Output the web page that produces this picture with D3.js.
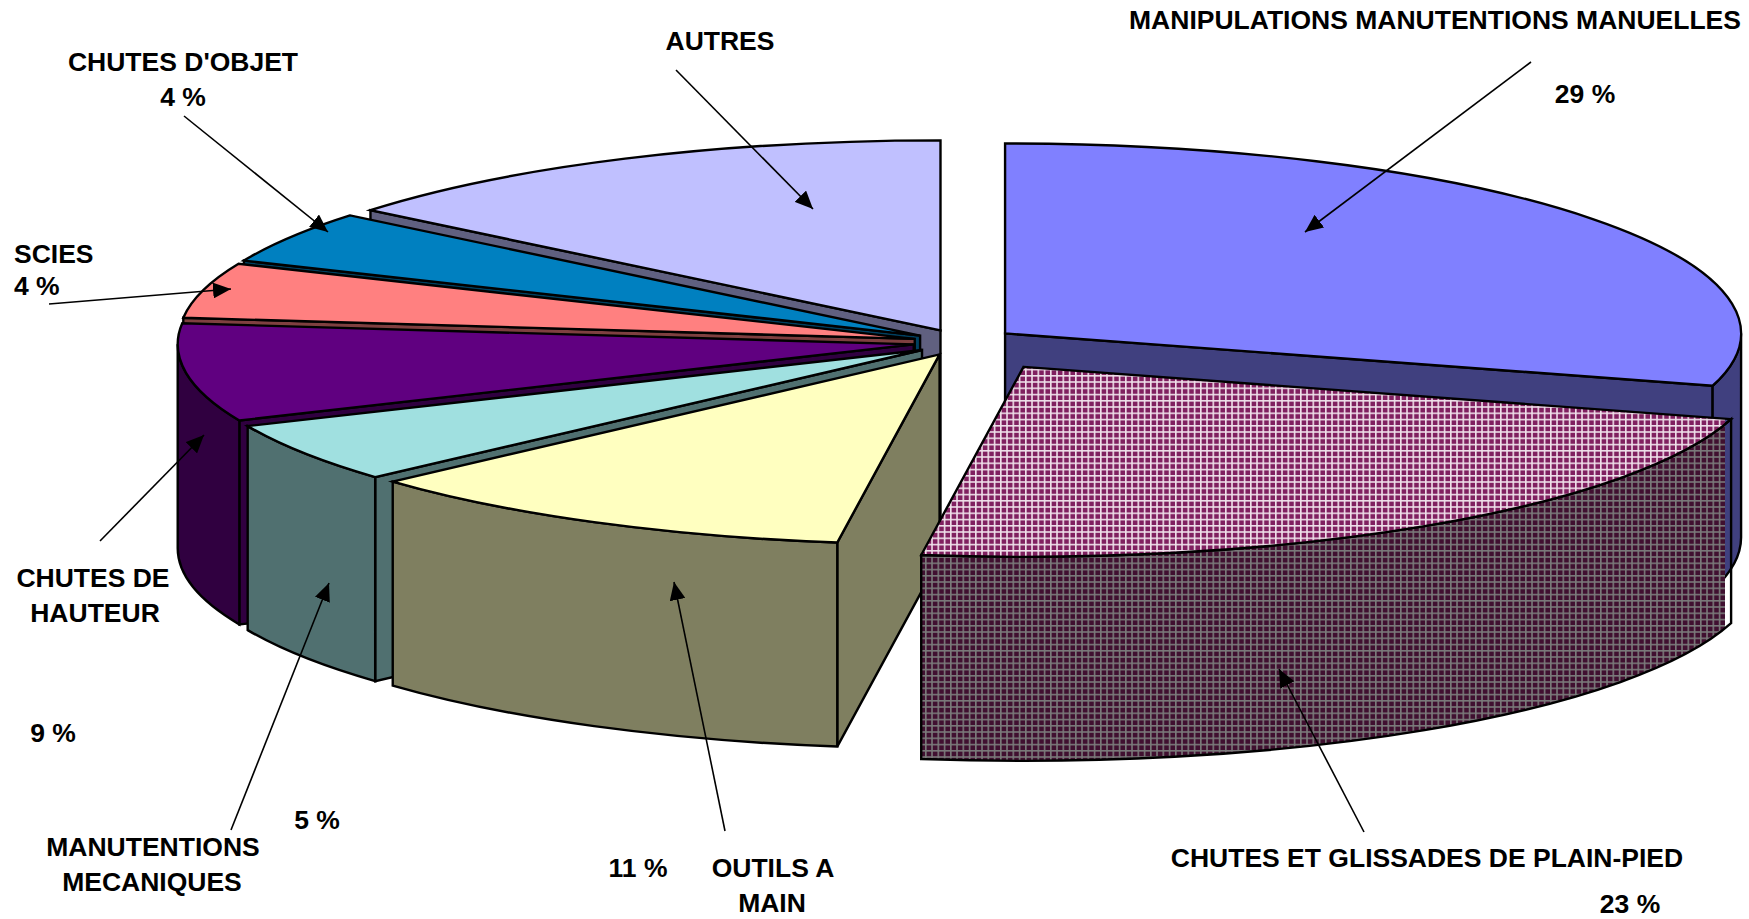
<!DOCTYPE html>
<html>
<head>
<meta charset="utf-8">
<script src="https://cdn.jsdelivr.net/npm/d3@7"></script>
<style>
  body { margin: 0; background: #fff; }
  svg { display: block; }
  text { font-family: "Liberation Sans", Arial, sans-serif; font-weight: bold; font-size: 26.5px; fill: #000; }
</style>
</head>
<body>
<div id="container"></div>
<script>
// slices, clockwise from 12 o'clock
let categories = [
    "MANIPULATIONS MANUTENTIONS MANUELLES",
    "CHUTES ET GLISSADES DE PLAIN-PIED",
    "OUTILS A MAIN",
    "MANUTENTIONS MECANIQUES",
    "CHUTES DE HAUTEUR",
    "SCIES",
    "CHUTES D'OBJET",
    "AUTRES"
];
// shares measured on the drawing, the printed labels are rounded
let shares = [29.44, 22.78, 11.11, 5.11, 8.33, 4.69, 4.44, 14.10];
let percentLabels = ["29 %", "23 %", "11 %", "5 %", "9 %", "4 %", "4 %", ""];
// how far each slice is pulled out, % of radius
let explosion = [7.5, 15.6, 6.2, 6.3, 6.5, 6.5, 6.5, 6.5];
// front slices sit a bit lower than a flat ellipse says (perspective), px
let frontDrop = [0, 0, 2, 1.5, 0.5, 0, 0, -0.5];

let topColors = ["#8080FF", "url(#checkTop)", "#FFFFC0", "#A0E0E0", "#600080", "#FF8080", "#0080C0", "#C0C0FF"];
let wallColors = ["#40407F", "url(#checkWall)", "#7F7F60", "#507070", "#300040", "#7F4040", "#004060", "#606080"];

// text placement: [string, x, baseline y, anchor]
let labelLayout = [
    [categories[0], 1435, 29, "middle"],
    [percentLabels[0], 1585, 103, "middle"],
    [categories[1], 1427, 867, "middle"],
    [percentLabels[1], 1630, 913, "middle"],
    ["OUTILS A", 773, 877, "middle"],
    ["MAIN", 772, 912, "middle"],
    [percentLabels[2], 638, 877, "middle"],
    ["MANUTENTIONS", 153, 856, "middle"],
    ["MECANIQUES", 152, 891, "middle"],
    [percentLabels[3], 317, 829, "middle"],
    ["CHUTES DE", 93, 587, "middle"],
    ["HAUTEUR", 95, 622, "middle"],
    [percentLabels[4], 53, 742, "middle"],
    [categories[5], 14, 263, "start"],
    [percentLabels[5], 14, 295, "start"],
    [categories[6], 183, 71, "middle"],
    [percentLabels[6], 183, 106, "middle"],
    [categories[7], 720, 50, "middle"]
];

// callout arrows: tail x, tail y, tip x, tip y
let arrowLayout = [
    [1531, 62, 1305, 232],
    [1364, 832, 1279, 669],
    [725, 831, 674, 582],
    [231, 830, 329, 583],
    [100, 541, 204, 435],
    [49, 304, 231, 289],
    [184, 116, 328, 232],
    [676, 70, 813, 209]
];

let w = 1749;
let h = 919;
let cx = 961;
let cy = 342;
let rx = 736;
let ry = 190;
let depth = 204;

let viz = d3.select("#container")
  .append("svg")
  .attr("width", w)
  .attr("height", h)
  .style("background-color", "rgb(255 255 255)");

let defs = viz.append("defs");

function addCheck(id, bg, line) {
    let p = defs.append("pattern")
        .attr("id", id)
        .attr("width", 6.25)
        .attr("height", 6.25)
        .attr("patternUnits", "userSpaceOnUse");
    p.append("rect").attr("width", 6.25).attr("height", 6.25).attr("fill", bg);
    p.append("path")
        .attr("d", "M0 0.8H6.25M0.8 0V6.25")
        .attr("stroke", line)
        .attr("stroke-width", 1.6);
}
addCheck("checkTop", "#802060", "#EFE0EA");
addCheck("checkWall", "#401030", "#7A7A7A");

defs.append("marker")
    .attr("id", "head")
    .attr("markerUnits", "userSpaceOnUse")
    .attr("markerWidth", 18)
    .attr("markerHeight", 16)
    .attr("refX", 18)
    .attr("refY", 8)
    .attr("orient", "auto")
    .append("path")
    .attr("d", "M0 0L18 8L0 16Z")
    .attr("fill", "#000");

let slices = d3.pie().sort(null).value(d => d)(shares);

let halfTurn = Math.PI / 2;

// each slice gets its own apex, pushed out along the bisector
slices.forEach((s, i) => {
    let mid = (s.startAngle + s.endAngle) / 2;
    let e = explosion[i] / 100;
    s.ax = cx + e * rx * Math.sin(mid);
    s.ay = cy - e * ry * Math.cos(mid) + frontDrop[i];
    s.at = (a, drop = 0) => [
        s.ax + rx * Math.sin(a),
        s.ay - ry * Math.cos(a) + drop
    ];
});

function topPath(s) {
    let p0 = s.at(s.startAngle);
    let p1 = s.at(s.endAngle);
    let large = s.endAngle - s.startAngle > Math.PI ? 1 : 0;
    return `M${s.ax} ${s.ay}L${p0}A${rx} ${ry} 0 ${large} 1 ${p1}Z`;
}

function sidePath(s, a) {
    let p = s.at(a);
    let q = s.at(a, depth);
    return `M${s.ax} ${s.ay}L${p}L${q}L${s.ax} ${s.ay + depth}Z`;
}

function rimPath(s) {
    // only the part of the rim turned to the viewer
    let a0 = Math.max(s.startAngle, halfTurn);
    let a1 = Math.min(s.endAngle, 3 * halfTurn);
    if (a1 <= a0) return null;
    return `M${s.at(a0)}A${rx} ${ry} 0 0 1 ${s.at(a1)}L${s.at(a1, depth)}A${rx} ${ry} 0 0 0 ${s.at(a0, depth)}Z`;
}

// back slices first, plain-pied last because it sits on top of everything
let drawOrder = [7, 6, 5, 4, 3, 2, 0, 1];

// the hatched slice fill stops a few px short of its outline on the right
let plain = slices[1];
defs.append("clipPath")
    .attr("id", "plainFill")
    .append("rect")
    .attr("x", 0)
    .attr("y", 0)
    .attr("width", plain.at(plain.startAngle)[0] - 6)
    .attr("height", h);

let pie = viz.append("g")
    .attr("stroke", "#000")
    .attr("stroke-linejoin", "miter");

function drawShape(d, i, color) {
    if (i == 1) {
        pie.append("path")
            .attr("d", d)
            .attr("fill", color)
            .attr("stroke", "none")
            .attr("clip-path", "url(#plainFill)");
        pie.append("path")
            .attr("d", d)
            .attr("fill", "none")
            .attr("stroke-width", 2.4);
    } else {
        pie.append("path")
            .attr("d", d)
            .attr("fill", color)
            .attr("stroke-width", 2.4);
    }
}

drawOrder.forEach(i => {
    let s = slices[i];
    // a cut face shows only when it looks towards the viewer
    if (Math.sin(s.startAngle) < -1e-6) drawShape(sidePath(s, s.startAngle), i, wallColors[i]);
    if (Math.sin(s.endAngle) > 1e-6) drawShape(sidePath(s, s.endAngle), i, wallColors[i]);
    let rim = rimPath(s);
    if (rim) drawShape(rim, i, wallColors[i]);
    drawShape(topPath(s), i, topColors[i]);
});

viz.append("g")
    .selectAll("line")
    .data(arrowLayout)
    .enter()
    .append("line")
    .attr("x1", d => d[0])
    .attr("y1", d => d[1])
    .attr("x2", d => d[2])
    .attr("y2", d => d[3])
    .attr("stroke", "#000")
    .attr("stroke-width", 1.6)
    .attr("marker-end", "url(#head)");

viz.append("g")
    .selectAll("text")
    .data(labelLayout)
    .enter()
    .append("text")
    .attr("x", d => d[1])
    .attr("y", d => d[2])
    .attr("text-anchor", d => d[3])
    .text(d => d[0]);
</script>
</body>
</html>
